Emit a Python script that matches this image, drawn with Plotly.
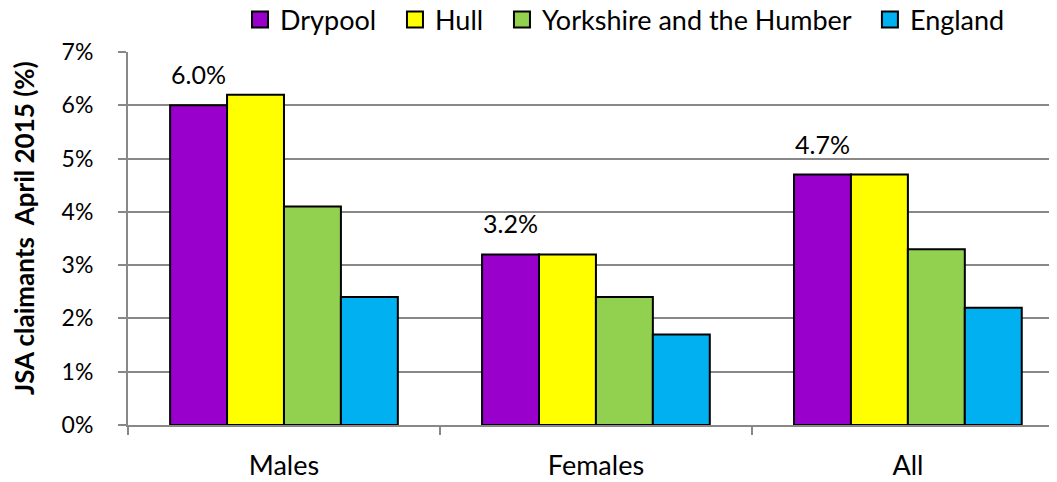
import plotly.graph_objects as go

# JSA claimant rates, April 2015
categories = ['Males', 'Females', 'All']
series_names = ['Drypool', 'Hull', 'Yorkshire and the Humber', 'England']
drypool = [6.0, 3.2, 4.7]
hull = [6.2, 3.2, 4.7]
yorkshire = [4.1, 2.4, 3.3]
england = [2.4, 1.7, 2.2]
y_ticks = [0, 1, 2, 3, 4, 5, 6, 7]
y_tick_labels = ['0%', '1%', '2%', '3%', '4%', '5%', '6%', '7%']

colors = ['#9900CC', '#FFFF00', '#92D050', '#00B0F0']
font_name = 'Lato'
bargap = 0.27

fig = go.Figure()
for name, values, color in zip(series_names, [drypool, hull, yorkshire, england], colors):
    fig.add_trace(go.Bar(
        x=categories,
        y=values,
        name=name,
        showlegend=False,
        marker=dict(color=color, line=dict(color='black', width=2)),
    ))

# legend entries with bigger square swatches (a bit of extra space after each name)
for k, (name, color) in enumerate(zip(series_names, colors)):
    pad = '\u00a0\u00a0' if k < len(series_names) - 1 else ''
    fig.add_trace(go.Scatter(
        x=[None], y=[None],
        mode='markers',
        name=name + pad,
        marker=dict(symbol='square', size=16, color=color,
                    line=dict(color='black', width=2)),
    ))

# labels above the Drypool bars
group_w = 1 - bargap
for i, v in enumerate(drypool):
    fig.add_annotation(
        x=i - group_w / 2 + group_w / 8,
        y=v,
        text=f'{v:.1f}%',
        showarrow=False,
        yanchor='bottom',
        yshift=14,
        font=dict(size=25, color='black', family=font_name),
    )

# y axis title
fig.add_annotation(
    xref='paper', yref='paper',
    x=-0.112, y=0.528,
    xanchor='center', yanchor='middle',
    text='<b>JSA claimants  April 2015 (%)</b>',
    textangle=-90,
    showarrow=False,
    font=dict(size=26, color='black', family=font_name),
)

fig.update_layout(
    width=1049,
    height=474,
    margin=dict(l=120, r=0, t=44, b=57, autoexpand=False),
    barmode='group',
    bargap=bargap,
    bargroupgap=0,
    plot_bgcolor='white',
    paper_bgcolor='white',
    font=dict(family=font_name, size=22, color='black'),
    showlegend=True,
    legend=dict(
        orientation='h',
        x=0.535, xanchor='center',
        y=1.086, yref='paper', yanchor='middle',
        font=dict(size=27, family=font_name),
        itemwidth=30,
        itemsizing='trace',
        tracegroupgap=0,
    ),
    xaxis=dict(
        range=[-0.5, 2.478],
        automargin=False,
        showline=True,
        linecolor='#888888',
        linewidth=2,
        ticks='outside',
        tickson='boundaries',
        ticklen=8,
        tickwidth=2,
        tickcolor='#888888',
        tickfont=dict(size=27),
        ticklabelstandoff=16,
        showgrid=False,
    ),
    yaxis=dict(
        range=[0, 7],
        automargin=False,
        tickvals=y_ticks,
        ticktext=y_tick_labels,
        showline=True,
        linecolor='#888888',
        linewidth=2,
        ticks='outside',
        ticklen=8,
        tickwidth=2,
        tickcolor='#888888',
        ticklabelstandoff=20,
        tickfont=dict(size=23),
        showgrid=True,
        gridcolor='#888888',
        gridwidth=2,
        zeroline=False,
    ),
)

fig.write_html('out.html')
